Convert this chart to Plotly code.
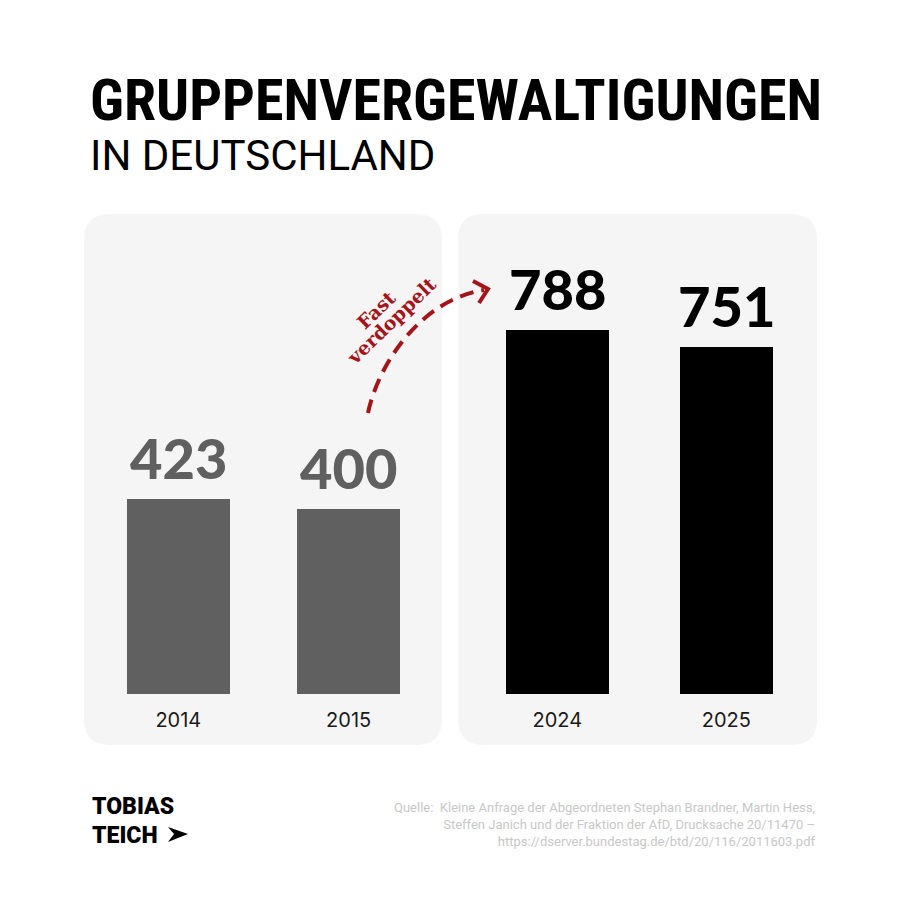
import plotly.graph_objects as go

# ---- data ----
years_early = ["2014", "2015"]
values_early = [423, 400]
years_late = ["2024", "2025"]
values_late = [788, 751]

title_main = "GRUPPENVERGEWALTIGUNGEN"
title_sub = "IN DEUTSCHLAND"
arrow_lines = ["Fast", "verdoppelt"]
logo_lines = ["TOBIAS", "TEICH"]
source_text = ("Quelle:  Kleine Anfrage der Abgeordneten Stephan Brandner, Martin Hess,<br>"
               "Steffen Janich und der Fraktion der AfD, Drucksache 20/11470 –<br>"
               "https://dserver.bundestag.de/btd/20/116/2011603.pdf")

W = H = 900
GREY = "#606060"
BLACK = "#000000"
PANEL = "#f5f5f5"
RED = "#a51419"


def px(x):
    return x / W


def py(y):
    return 1 - y / H


def rounded_rect(x0, y0, x1, y1, r):
    pts = [
        f"M {px(x0 + r)},{py(y0)}",
        f"L {px(x1 - r)},{py(y0)}",
        f"Q {px(x1)},{py(y0)} {px(x1)},{py(y0 + r)}",
        f"L {px(x1)},{py(y1 - r)}",
        f"Q {px(x1)},{py(y1)} {px(x1 - r)},{py(y1)}",
        f"L {px(x0 + r)},{py(y1)}",
        f"Q {px(x0)},{py(y1)} {px(x0)},{py(y1 - r)}",
        f"L {px(x0)},{py(y0 + r)}",
        f"Q {px(x0)},{py(y0)} {px(x0 + r)},{py(y0)}",
        "Z",
    ]
    return " ".join(pts)


fig = go.Figure()
fig.add_trace(go.Bar(x=years_early, y=values_early, marker=dict(color=GREY, line=dict(width=0)),
                     width=[0.607, 0.607], xaxis="x", yaxis="y", hoverinfo="skip"))
fig.add_trace(go.Bar(x=years_late, y=values_late, marker=dict(color=BLACK, line=dict(width=0)),
                     width=[0.611, 0.548], xaxis="x2", yaxis="y2", hoverinfo="skip"))

label_font = dict(family="Lato, Roboto, sans-serif", size=56, weight=900)
annotations = []
for i, v in enumerate(values_early):
    annotations.append(dict(x=i, y=v, xref="x", yref="y", text=str(v), showarrow=False,
                            yanchor="bottom", yshift=6, font=dict(label_font, color=GREY)))
for i, v in enumerate(values_late):
    annotations.append(dict(x=i, y=v, xref="x2", yref="y2", text=str(v), showarrow=False,
                            yanchor="bottom", yshift=6, font=dict(label_font, color=BLACK)))

# titles
annotations.append(dict(x=px(88), y=py(100), xref="paper", yref="paper", text=title_main,
                        showarrow=False, xanchor="left", yanchor="middle",
                        font=dict(family="Liberation Sans Narrow, Roboto Condensed, sans-serif",
                                  size=58, weight=700, color="#000")))
annotations.append(dict(x=px(88), y=py(155), xref="paper", yref="paper", text=title_sub,
                        showarrow=False, xanchor="left", yanchor="middle",
                        font=dict(family="Roboto, sans-serif", size=42, weight=400, color="#000")))
# arrow text (two rotated lines)
for (cx, cy), line in zip([(376, 310), (391, 321)], arrow_lines):
    annotations.append(dict(x=px(cx), y=py(cy), xref="paper", yref="paper", text=line,
                            showarrow=False, textangle=-44,
                            font=dict(family="DejaVu Serif, serif", size=19, weight=700, color=RED)))
# logo
annotations.append(dict(x=px(91), y=py(821), xref="paper", yref="paper", text=logo_lines[0],
                        showarrow=False, xanchor="left", yanchor="bottom", borderpad=0,
                        font=dict(family="Roboto, sans-serif", size=23, weight=900, color="#000")))
annotations.append(dict(x=px(91), y=py(821), xref="paper", yref="paper", text=logo_lines[1],
                        showarrow=False, xanchor="left", yanchor="top", borderpad=0,
                        font=dict(family="Roboto, sans-serif", size=23, weight=900, color="#000")))
# source
annotations.append(dict(x=px(817), y=py(824), xref="paper", yref="paper", text=source_text,
                        showarrow=False, xanchor="right", yanchor="middle", align="right",
                        font=dict(family="Roboto, sans-serif", size=13, color="#c8c8c8")))

shapes = [
    dict(type="path", path=rounded_rect(84, 214, 442, 745, 26), xref="paper", yref="paper",
         fillcolor=PANEL, line=dict(width=0), layer="below"),
    dict(type="path", path=rounded_rect(458, 214, 817, 745, 26), xref="paper", yref="paper",
         fillcolor=PANEL, line=dict(width=0), layer="below"),
    # dashed curved arrow
    dict(type="path", xref="paper", yref="paper",
         path=f"M {px(368)},{py(413)} C {px(378)},{py(365)} {px(420)},{py(300)} {px(484)},{py(290)}",
         line=dict(color=RED, width=4, dash="14px,8px")),
    dict(type="path", xref="paper", yref="paper",
         path=f"M {px(473)},{py(281)} L {px(488)},{py(289)} L {px(479)},{py(303)}",
         line=dict(color=RED, width=4)),
    # logo glyph
    dict(type="path", xref="paper", yref="paper",
         path=f"M {px(168)},{py(827)} L {px(188)},{py(834)} L {px(168)},{py(842)} L {px(174)},{py(834)} Z",
         fillcolor="#000", line=dict(width=0)),
]

axis_common = dict(showgrid=False, zeroline=False, showline=False, ticks="", fixedrange=True)
fig.update_layout(
    width=W, height=H, margin=dict(l=0, r=0, t=0, b=0),
    paper_bgcolor="white", plot_bgcolor="rgba(0,0,0,0)",
    showlegend=False, bargap=0,
    xaxis=dict(axis_common, domain=[px(84), px(442)], range=[-0.554, 1.548], type="category",
               anchor="y", tickfont=dict(family="Inter, Roboto, sans-serif", size=20, color="#1a1a1a"),
               ticklabelstandoff=12),
    xaxis2=dict(axis_common, domain=[px(458), px(817)], range=[-0.587, 1.536], type="category",
                anchor="y2", tickfont=dict(family="Inter, Roboto, sans-serif", size=20, color="#1a1a1a"),
                ticklabelstandoff=12),
    yaxis=dict(axis_common, domain=[1 - 694 / H, 1 - 214 / H], range=[0, 1039.4], showticklabels=False,
               anchor="x"),
    yaxis2=dict(axis_common, domain=[1 - 694 / H, 1 - 214 / H], range=[0, 1039.4], showticklabels=False,
                anchor="x2"),
    annotations=annotations,
    shapes=shapes,
)

fig.write_html("out.html")
